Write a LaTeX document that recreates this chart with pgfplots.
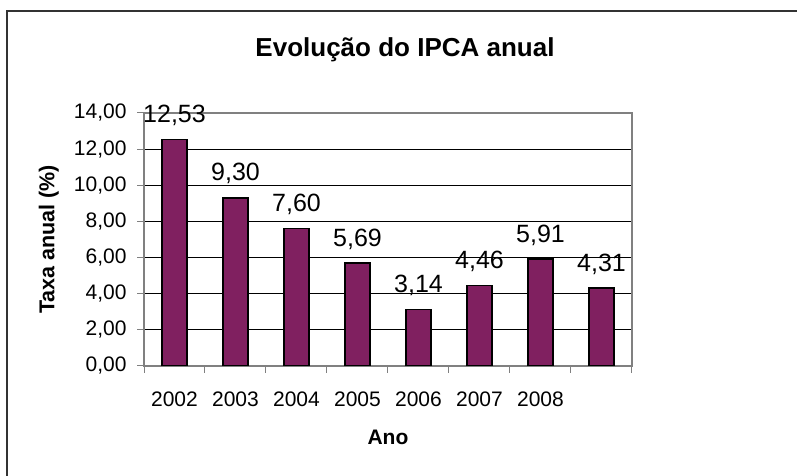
\documentclass[border=0pt]{standalone}
\usepackage{pgfplots}
\pgfplotsset{compat=1.18}
\usepackage{fontspec}
\setmainfont{Liberation Sans}
\definecolor{barplum}{RGB}{128,32,96}
\definecolor{boxgray}{RGB}{128,128,128}
\newcommand{\lbl}{\fontsize{21}{24}\selectfont}
\newcommand{\vlbl}{\fontsize{25}{28}\selectfont}
\begin{document}
\begin{tikzpicture}
\useasboundingbox (0pt,0pt) rectangle (797pt,476pt);
\draw[line width=1.3pt, black!80] (7pt,0pt) -- (7pt,465pt) -- (797pt,465pt);
\node[font=\fontsize{26}{30}\selectfont\bfseries] at (405pt,426pt) {Evolução do IPCA anual};
\begin{axis}[
    at={(144pt,110pt)}, anchor=south west, scale only axis,
    width=488pt, height=253pt,
    ybar, bar width=25pt,
    xmin=-0.5, xmax=7.5, ymin=0, ymax=14,
    ytick={0,2,...,14},
    xtick={-0.5,0.5,...,7.5}, xticklabels={},
    extra x ticks={0,1,2,3,4,5,6},
    extra x tick labels={2002,2003,2004,2005,2006,2007,2008},
    extra x tick style={major tick length=0pt, grid=none,
        xticklabel style={anchor=base, yshift=-41pt}},
    xtick pos=bottom, ytick pos=left,
    tick align=outside, major tick length=7pt,
    ymajorgrids, major grid style={black, line width=0.8pt},
    axis line style={boxgray, line width=1.5pt},
    tick style={boxgray, line width=1pt},
    /pgf/number format/.cd, fixed, fixed zerofill, precision=2, use comma, assume math mode=true,
    /pgfplots/.cd,
    tick label style={font=\lbl},
    yticklabel style={anchor=east, xshift=-7pt},
    nodes near coords,
    every node near coord/.append style={font=\vlbl, text=black, anchor=base, yshift=17pt},
    xlabel={Ano}, ylabel={Taxa anual (\%)},
    xlabel style={font=\fontsize{21}{24}\selectfont\bfseries, at={(axis description cs:0.5,-0.283)}, anchor=center},
    ylabel style={font=\fontsize{21.5}{24}\selectfont\bfseries, at={(axis description cs:-0.195,0.5)}, anchor=center},
]
\addplot[fill=barplum, draw=black, line width=1.5pt] coordinates {
    (0,12.53) (1,9.30) (2,7.60) (3,5.69) (4,3.14) (5,4.46) (6,5.91) (7,4.31)};
\end{axis}
\end{tikzpicture}
\end{document}
